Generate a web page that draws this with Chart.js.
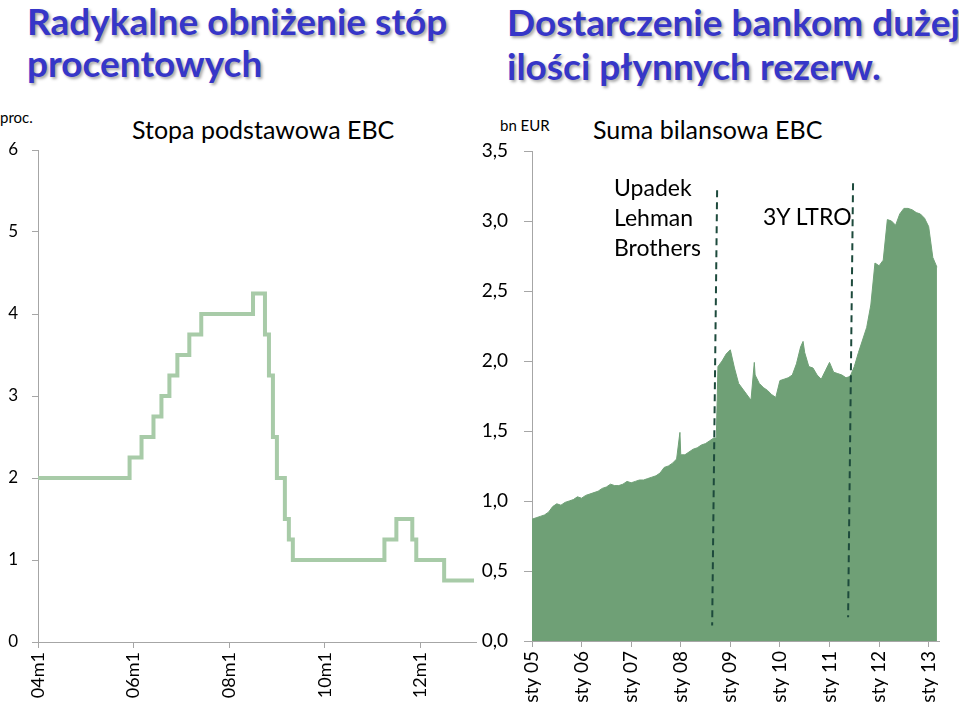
<!DOCTYPE html>
<html>
<head>
<meta charset="utf-8">
<script src="https://cdn.jsdelivr.net/npm/chart.js@4.4.1/dist/chart.umd.min.js"></script>
<style>
  body { margin: 0; width: 959px; height: 705px; overflow: hidden; background: #fff; font-family: Lato, sans-serif; position: relative; }
  .title { position: absolute; color: #3636c8; font-weight: bold; font-size: 37px; text-shadow: 2px 2px 3px rgba(0,0,0,0.35); white-space: nowrap; }
  .lbl { position: absolute; white-space: nowrap; color: #000; }
  #leftBox { position: absolute; left: 0; top: 140px; }
  #rightBox { position: absolute; left: 480px; top: 140px; }
</style>
</head>
<body>

<div class="title" style="left:27px; top:0px; line-height:42px;">Radykalne obniżenie stóp<br>procentowych</div>
<div class="title" style="left:507px; top:0px; line-height:44px;">Dostarczenie bankom dużej<br>ilości płynnych rezerw.</div>

<div class="lbl" style="left:0; top:108px; font-size:15px;">proc.</div>
<div class="lbl" style="left:132px; top:114px; font-size:25px;">Stopa podstawowa EBC</div>
<div class="lbl" style="left:500px; top:116px; font-size:15px;">bn EUR</div>
<div class="lbl" style="left:593px; top:114px; font-size:25px;">Suma bilansowa EBC</div>

<div id="leftBox"><canvas id="rateChart" width="480" height="565"></canvas></div>
<div id="rightBox"><canvas id="balanceChart" width="479" height="565"></canvas></div>

<div class="lbl" style="left:614px; top:172px; font-size:23px; line-height:30px;">Upadek<br>Lehman<br>Brothers</div>
<div class="lbl" style="left:763px; top:202px; font-size:23px;">3Y LTRO</div>

<script>
// ECB main refinancing rate (month index, 0 = 2004m1)
const rateMonths = [0, 23, 26, 29, 31, 33, 35, 38, 41, 54, 57, 58, 59, 60, 62, 63, 64, 87, 90, 94, 95, 102, 109.5];
const rateValues = [2.00, 2.25, 2.50, 2.75, 3.00, 3.25, 3.50, 3.75, 4.00, 4.25, 3.75, 3.25, 2.50, 2.00, 1.50, 1.25, 1.00, 1.25, 1.50, 1.25, 1.00, 0.75, 0.75];
const rateTickPos = [0, 24, 48, 72, 96];
const rateTickLabels = ["04m1", "06m1", "08m1", "10m1", "12m1"];

// ECB balance sheet total, bn EUR in thousands (month index, 0 = sty 05)
const balanceMonths = [0, 1, 2, 3, 4, 5, 6, 7, 8, 9, 10, 11,
  12, 13, 14, 15, 16, 17, 18, 19, 20, 21, 22, 23,
  24, 25, 26, 27, 28, 29, 30, 31, 32, 33, 34, 35, 35.8,
  36, 37, 38, 39, 40, 41, 42, 43, 44, 44.6, 45, 46, 47,
  48, 49, 50, 51, 52, 53, 53.8, 54, 55, 56, 57, 58, 59,
  60, 61, 62, 63, 64, 65, 65.6, 66, 67, 68, 69, 70, 71,
  72, 73, 74, 75, 76, 77, 78, 79, 80, 81, 82, 83,
  84, 85, 86, 87, 88, 89, 90, 91, 92, 93, 94, 95,
  96, 97, 98];
const balanceValues = [0.87, 0.88, 0.89, 0.90, 0.92, 0.96, 0.98, 0.97, 0.99, 1.00, 1.01, 1.03,
  1.02, 1.04, 1.05, 1.06, 1.07, 1.09, 1.10, 1.12, 1.11, 1.11, 1.12, 1.14,
  1.13, 1.14, 1.15, 1.15, 1.16, 1.17, 1.18, 1.20, 1.24, 1.25, 1.27, 1.30, 1.49,
  1.33, 1.33, 1.35, 1.37, 1.38, 1.40, 1.41, 1.43, 1.45, 1.45, 1.96, 2.00, 2.05,
  2.08, 1.95, 1.84, 1.80, 1.76, 1.72, 1.99, 1.90, 1.84, 1.81, 1.79, 1.76, 1.74,
  1.86, 1.87, 1.88, 1.90, 1.98, 2.10, 2.14, 2.06, 1.96, 1.95, 1.90, 1.87, 1.93,
  1.99, 1.92, 1.91, 1.90, 1.88, 1.89, 1.96, 2.06, 2.15, 2.24, 2.40, 2.70,
  2.68, 2.72, 3.01, 3.00, 2.97, 3.05, 3.09, 3.09, 3.08, 3.06, 3.05, 3.02,
  2.96, 2.74, 2.67];
const balanceTickPos = [0, 12, 24, 36, 48, 60, 72, 84, 96];
const balanceTickLabels = ["sty 05", "sty 06", "sty 07", "sty 08", "sty 09", "sty 10", "sty 11", "sty 12", "sty 13"];

// event markers: Lehman collapse and 3Y LTRO (top and bottom of the dashed line)
const lehmanLine = [{ x: 44.8, y: 3.22 }, { x: 43.6, y: 0.11 }];
const ltroLine = [{ x: 77.7, y: 3.27 }, { x: 76.5, y: 0.17 }];

const axisGrey = "#a6a6a6";

// keep the plot area where the layout padding puts it
const noPadY = (s, w) => { s.width = w; s.paddingTop = 0; s.paddingBottom = 0; };
const noPadX = (s, h) => { s.height = h; s.paddingLeft = 0; s.paddingRight = 0; };

const rateChart = new Chart(document.getElementById("rateChart"), {
  type: "line",
  data: {
    datasets: [{
      data: rateMonths.map((m, i) => ({ x: m, y: rateValues[i] })),
      stepped: true,
      borderColor: "#a8cba8",
      borderWidth: 4,
      pointRadius: 0,
      fill: false,
    }],
  },
  options: {
    responsive: false,
    animation: false,
    layout: { padding: { top: 10, right: 4, left: 0, bottom: 0 } },
    plugins: { legend: { display: false }, tooltip: { enabled: false } },
    scales: {
      x: {
        type: "linear",
        min: 0,
        max: 110,
        grid: { drawOnChartArea: false, tickLength: 6, color: axisGrey },
        border: { color: axisGrey },
        afterBuildTicks: (s) => { s.ticks = rateTickPos.map(v => ({ value: v })); },
        afterFit: (s) => noPadX(s, 63),
        ticks: {
          autoSkip: false, minRotation: 90, maxRotation: 90, padding: 4,
          color: "#000", font: { family: "Lato", size: 18 },
          callback: (v) => rateTickLabels[rateTickPos.indexOf(v)],
        },
      },
      y: {
        min: 0,
        max: 6,
        grid: { drawOnChartArea: false, tickLength: 6, color: axisGrey },
        border: { color: axisGrey },
        afterFit: (s) => noPadY(s, 38),
        ticks: { stepSize: 1, padding: 14, color: "#000", font: { family: "Lato", size: 17 } },
      },
    },
  },
});

const balanceChart = new Chart(document.getElementById("balanceChart"), {
  type: "line",
  data: {
    datasets: [
      {
        data: lehmanLine, borderColor: "#1d4a3c", borderWidth: 2, borderDash: [7, 5],
        pointRadius: 0, fill: false, order: 0,
      },
      {
        data: ltroLine, borderColor: "#1d4a3c", borderWidth: 2, borderDash: [7, 5],
        pointRadius: 0, fill: false, order: 0,
      },
      {
        data: balanceMonths.map((m, i) => ({ x: m, y: balanceValues[i] })),
        borderColor: "#6fa076",
        backgroundColor: "#6fa076",
        borderWidth: 1,
        pointRadius: 0,
        fill: "origin",
        order: 1,
      },
    ],
  },
  options: {
    responsive: false,
    animation: false,
    layout: { padding: { top: 11, right: 20, left: 0, bottom: 0 } },
    plugins: { legend: { display: false }, tooltip: { enabled: false } },
    scales: {
      x: {
        type: "linear",
        min: 0,
        max: 98.5,
        grid: { drawOnChartArea: false, tickLength: 6, color: axisGrey },
        border: { color: axisGrey },
        afterBuildTicks: (s) => { s.ticks = balanceTickPos.map(v => ({ value: v })); },
        afterFit: (s) => noPadX(s, 64),
        ticks: {
          autoSkip: false, minRotation: 90, maxRotation: 90, padding: 4,
          color: "#000", font: { family: "Lato", size: 19 },
          callback: (v) => balanceTickLabels[balanceTickPos.indexOf(v)],
        },
      },
      y: {
        min: 0,
        max: 3.5,
        grid: { drawOnChartArea: false, tickLength: 8, color: axisGrey },
        border: { color: axisGrey },
        afterFit: (s) => noPadY(s, 52),
        ticks: {
          stepSize: 0.5, padding: 16, color: "#000", font: { family: "Lato", size: 19 },
          callback: (v) => v.toFixed(1).replace(".", ","),
        },
      },
    },
  },
});
</script>
</body>
</html>
